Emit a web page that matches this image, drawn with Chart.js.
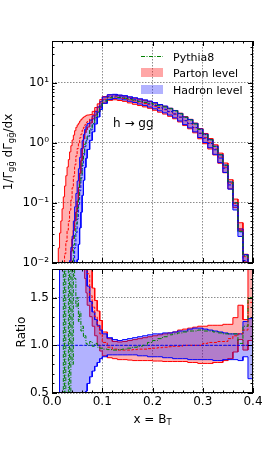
<!DOCTYPE html>
<html>
<head>
<meta charset="utf-8">
<script src="https://cdn.jsdelivr.net/npm/chart.js@4.4.0/dist/chart.umd.min.js"></script>
<style>
  html, body { margin: 0; padding: 0; background: #fff; }
  #wrap { position: relative; width: 266px; height: 463px; overflow: hidden; }
  canvas { position: absolute; left: 0; }
  #topChart { top: 0; }
  #ratioChart { top: 266px; }
</style>
</head>
<body>
<div id="wrap">
  <canvas id="topChart" width="266" height="275"></canvas>
  <canvas id="ratioChart" width="266" height="197"></canvas>
</div>
<script>
// Bin edges (x = B_T): finer bins on the steep rise
const binEdges = [0,
  0.01, 0.0125, 0.015, 0.0175, 0.02, 0.0225, 0.025, 0.0275, 0.03, 0.0325,
  0.035, 0.0375, 0.04, 0.0425, 0.045, 0.0475, 0.05, 0.0525, 0.055, 0.0575,
  0.06, 0.0625, 0.065, 0.0675, 0.07,
  0.075, 0.08, 0.085, 0.09, 0.095, 0.1,
  0.11, 0.12, 0.13, 0.14, 0.15, 0.16, 0.17, 0.18, 0.19, 0.2,
  0.21, 0.22, 0.23, 0.24, 0.25, 0.26, 0.27, 0.28, 0.29, 0.3,
  0.31, 0.32, 0.33, 0.34, 0.35, 0.36, 0.37, 0.38, 0.39, 0.4];

// Hadron level central value, 1/Gamma dGamma/dx
const hadron = [null,
  2.5e-6, 5e-6, 1e-5, 2e-5, 4e-5, 8e-5, 1.6e-4, 3.2e-4, 6.3e-4, 1.1e-3,
  2e-3, 3.5e-3, 5.6e-3, 0.01, 0.018, 0.032, 0.054, 0.093, 0.16, 0.26,
  0.42, 0.63, 0.87, 1.07,
  1.3, 1.65, 2.1, 2.65, 3.3, 4.2,
  5.2, 5.9, 6.1, 6.0, 5.8, 5.5, 5.25, 5.0, 4.75, 4.5,
  4.2, 3.9, 3.65, 3.35, 3.05, 2.7, 2.35, 2.1, 1.8, 1.45,
  1.2, 0.98, 0.77, 0.56, 0.38, 0.2, 0.09, 0.033, 0.011, 0.003];

// Everything below is a ratio to the hadron level central value
const hadronLo = [null,
  null, null, 0.17, 0.17, 0.17, 0.17, 0.17, 0.17, 0.17, 0.18,
  0.18, 0.19, 0.2, 0.2, 0.2, 0.21, 0.21, 0.22, 0.24, 0.27,
  0.32, 0.38, 0.45, 0.52,
  0.6, 0.67, 0.73, 0.78, 0.82, 0.86,
  0.88, 0.9, 0.9, 0.9, 0.9, 0.9, 0.9, 0.89, 0.89, 0.88,
  0.88, 0.88, 0.87, 0.87, 0.86, 0.86, 0.86, 0.85, 0.85, 0.85,
  0.85, 0.85, 0.84, 0.84, 0.85, 0.85, 0.85, 0.84, 0.88, 0.65];
const hadronHi = [null,
  null, null, 6, 6, 6, 6, 6, 6, 6, 5.8,
  5.5, 5.2, 5, 5, 4.8, 4.5, 4.3, 4, 3.6, 3.1,
  2.6, 2.2, 1.95, 1.8,
  1.62, 1.46, 1.35, 1.27, 1.21, 1.16,
  1.12, 1.08, 1.06, 1.05, 1.06, 1.07, 1.08, 1.09, 1.1, 1.11,
  1.12, 1.12, 1.13, 1.13, 1.14, 1.15, 1.15, 1.17, 1.18, 1.18,
  1.17, 1.16, 1.15, 1.14, 1.13, 1.12, 1.12, 1.12, 1.25, 1.28];
const partonRatio = [null,
  400, 316, 250, 178, 141, 112, 89, 71, 56, 45,
  38, 32, 32, 28, 24, 19, 15, 10.7, 7.6, 5.4,
  3.9, 2.9, 2.3, 2.04,
  1.75, 1.52, 1.4, 1.3, 1.2, 1.12,
  1.03, 0.98, 0.96, 0.95, 0.95, 0.95, 0.955, 0.96, 0.96, 0.965,
  0.97, 0.975, 0.98, 0.985, 0.99, 0.99, 1.0, 1.0, 1.0, 1.0,
  1.02, 1.03, 1.03, 1.04, 1.04, 1.07, 1.1, 1.12, 1.16, 1.45];
const partonLo = [null,
  40, 32, 25, 20, 16, 12.5, 10, 7.9, 6.3, 5.7,
  5, 4.5, 4.5, 3.5, 2.8, 2.2, 2.0, 1.95, 1.95, 1.95,
  1.95, 1.85, 1.7, 1.55,
  1.42, 1.3, 1.2, 1.1, 1.0, 0.94,
  0.89, 0.87, 0.86, 0.85, 0.85, 0.845, 0.84, 0.84, 0.84, 0.84,
  0.835, 0.835, 0.83, 0.83, 0.83, 0.83, 0.83, 0.82, 0.82, 0.81,
  0.81, 0.81, 0.82, 0.82, 0.84, 0.86, 0.93, 1.06, 0.95, 1.05];
const partonHi = [null,
  3550, 3550, 3160, 2510, 2000, 1580, 1200, 890, 630, 480,
  355, 257, 200, 135, 89, 57, 37, 23, 14.5, 9.5,
  6.2, 4.3, 3.2, 2.7,
  2.25, 1.8, 1.6, 1.47, 1.36, 1.26,
  1.14, 1.07, 1.04, 1.035, 1.04, 1.05, 1.06, 1.07, 1.08, 1.09,
  1.1, 1.11, 1.12, 1.13, 1.14, 1.16, 1.17, 1.18, 1.19, 1.2,
  1.2, 1.21, 1.21, 1.21, 1.22, 1.22, 1.29, 1.42, 1.27, 2.5];
const pythiaRatio = [null,
  null, null, null, null, 4, 0.2, 3, 0.3, 0.4, 2.5,
  0.3, 2.2, 0.8, 2.0, 1.7, 1.4, 1.5, 1.25, 1.35, 1.15,
  1.2, 1.08, 1.1, 1.02,
  1.0, 1.04, 0.99, 1.02, 0.98, 0.97,
  0.96, 0.955, 0.95, 0.955, 0.96, 0.97, 0.98, 0.99, 1.0, 1.03,
  1.05, 1.07, 1.09, 1.11, 1.12, 1.13, 1.14, 1.15, 1.15, 1.16,
  1.15, 1.15, 1.14, 1.13, 1.12, 1.12, 1.12, 1.02, 1.2, 1.5];

// Ticks and labels
const xTicks = [0, 0.1, 0.2, 0.3, 0.4];
const xTickLabels = ['0.0', '0.1', '0.2', '0.3', '0.4'];
const topTicks = [0.01, 0.1, 1, 10];
const topTickLabels = ['10⁻²', '10⁻¹', '10⁰', '10¹'];
const ratioTicks = [0.5, 1.0, 1.5];
const ratioTickLabels = ['0.5', '1.0', '1.5'];
const legendLabels = ['Pythia8', 'Parton level', 'Hadron level'];

const FONT = '"DejaVu Sans"';
const partonColor = '#ff0000', partonFill = 'rgba(255,0,0,0.3)';
const hadronColor = '#0000ff', hadronFill = 'rgba(0,0,255,0.3)';
const pythiaColor = '#008000';
const gridColor = 'rgba(0,0,0,0.45)';

Chart.defaults.font.family = 'DejaVu Sans';
Chart.defaults.font.size = 12;
Chart.defaults.color = '#000';
Chart.defaults.animation = false;

// histogram helpers
function stepPoints(vals) {
    const pts = [];
    let last = -1;
    vals.forEach((v, i) => {
        if (v == null) return;
        pts.push({x: binEdges[i], y: v});
        last = i;
    });
    pts.push({x: binEdges[last + 1], y: vals[last]});
    return pts;
}

// closed outline of a band: upper steps forward, lower steps back
function outlinePoints(lo, hi) {
    const idx = [];
    lo.forEach((v, i) => { if (v != null) idx.push(i); });
    const pts = [];
    idx.forEach(i => pts.push({x: binEdges[i], y: hi[i]}, {x: binEdges[i + 1], y: hi[i]}));
    idx.slice().reverse().forEach(i => pts.push({x: binEdges[i + 1], y: lo[i]}, {x: binEdges[i], y: lo[i]}));
    pts.push({x: pts[0].x, y: pts[0].y});
    return pts;
}

const times = r => r.map((v, i) => (v == null || hadron[i] == null) ? null : v * hadron[i]);

function makeSets(v) {
    const base = {pointRadius: 0, borderWidth: 1, fill: false, clip: 0, tension: 0};
    const list = [
        {...base, data: stepPoints(v.pHi), stepped: true, borderWidth: 0},
        {...base, data: stepPoints(v.pLo), stepped: true, borderWidth: 0, fill: '-1', backgroundColor: partonFill},
        {...base, data: outlinePoints(v.pLo, v.pHi), borderColor: partonColor},
        {...base, data: stepPoints(v.hHi), stepped: true, borderWidth: 0},
        {...base, data: stepPoints(v.hLo), stepped: true, borderWidth: 0, fill: '-1', backgroundColor: hadronFill},
        {...base, data: outlinePoints(v.hLo, v.hHi), borderColor: hadronColor},
        {...base, data: stepPoints(v.pMid), stepped: true, borderColor: partonColor, borderDash: [3, 1.5]},
        {...base, data: stepPoints(v.hMid), stepped: true, borderColor: hadronColor, borderDash: [3, 1.5]},
        {...base, data: stepPoints(v.py), stepped: true, borderColor: pythiaColor, borderDash: [4, 1.5, 1, 1.5]}
    ];
    // first in list is drawn first (bottom)
    list.forEach((d, i) => { d.order = list.length - i; });
    return list;
}

function line(ctx, x1, y1, x2, y2) {
    ctx.beginPath();
    ctx.moveTo(x1, y1);
    ctx.lineTo(x2, y2);
    ctx.stroke();
}

// text with subscripts, (x, y) = baseline centre
function richText(ctx, parts, x, y, size, angle) {
    ctx.save();
    ctx.translate(x, y);
    ctx.rotate(angle || 0);
    ctx.fillStyle = '#000';
    ctx.textBaseline = 'alphabetic';
    ctx.textAlign = 'left';
    const fontOf = k => (k ? size * 0.7 : size) + 'px ' + FONT;
    let total = 0;
    const widths = parts.map(([t, k]) => {
        ctx.font = fontOf(k);
        const w = ctx.measureText(t).width;
        total += w;
        return w;
    });
    let cx = -total / 2;
    parts.forEach(([t, k], i) => {
        ctx.font = fontOf(k);
        const dy = k === 'sub' ? size * 0.22 : (k === 'sup' ? -size * 0.4 : 0);
        ctx.fillText(t, cx, dy);
        cx += widths[i];
    });
    ctx.restore();
}

// frame with inward ticks on all four sides
const frameTicks = {
    id: 'frameTicks',
    afterDatasetsDraw(chart, args, o) {
        const {ctx, chartArea: a} = chart;
        const sx = chart.scales.x, sy = chart.scales.y;
        ctx.save();
        ctx.strokeStyle = '#000';
        ctx.lineWidth = 1;
        ctx.setLineDash([]);
        const xt = (v, len) => {
            const p = Math.round(sx.getPixelForValue(v)) + 0.5;
            line(ctx, p, a.bottom, p, a.bottom - len);
            line(ctx, p, a.top, p, a.top + len);
        };
        const yt = (v, len) => {
            const p = Math.round(sy.getPixelForValue(v)) + 0.5;
            line(ctx, a.left, p, a.left + len, p);
            line(ctx, a.right, p, a.right - len, p);
        };
        o.xMajor.forEach(v => xt(v, 5));
        o.xMinor.forEach(v => xt(v, 2.5));
        o.yMajor.forEach(v => yt(v, 5));
        o.yMinor.forEach(v => yt(v, 2.5));
        ctx.strokeRect(a.left + 0.5, a.top + 0.5, a.width - 1, a.height - 1);
        ctx.restore();
    }
};

const topText = {
    id: 'topText',
    afterDraw(chart) {
        const ctx = chart.ctx;
        richText(ctx, [['1/Γ'], ['gḡ', 'sub'], [' dΓ'], ['gḡ', 'sub'], ['/dx']], 11.5, 152, 12, -Math.PI / 2);

        ctx.save();
        ctx.fillStyle = '#000';
        ctx.font = '12px ' + FONT;
        ctx.textBaseline = 'alphabetic';
        ctx.fillText('h → gg', 113, 126.5);

        // legend
        ctx.font = '11px ' + FONT;
        ctx.strokeStyle = pythiaColor;
        ctx.lineWidth = 1;
        ctx.setLineDash([4, 1.5, 1, 1.5]);
        line(ctx, 141, 56.5, 163, 56.5);
        ctx.setLineDash([]);
        ctx.fillStyle = 'rgba(255,0,0,0.35)';
        ctx.fillRect(141, 68, 22, 9);
        ctx.fillStyle = 'rgba(0,0,255,0.3)';
        ctx.fillRect(141, 85, 22, 9);
        ctx.fillStyle = '#000';
        ctx.fillText(legendLabels[0], 173, 60.5);
        ctx.fillText(legendLabels[1], 173, 77);
        ctx.fillText(legendLabels[2], 173, 94);
        ctx.restore();
    }
};

const ratioText = {
    id: 'ratioText',
    afterDraw(chart) {
        const ctx = chart.ctx;
        richText(ctx, [['Ratio']], 25, 66, 12, -Math.PI / 2);
        richText(ctx, [['x = B'], ['T', 'sub']], 152.5, 156.5, 12, 0);
    }
};

// minor tick positions
const xMinor = [];
for (let v = 0.02; v < 0.4; v += 0.02) if (Math.abs(v * 10 - Math.round(v * 10)) > 1e-6) xMinor.push(v);
const logMinor = [];
for (let d = -2; d <= 1; d++) for (let k = 2; k <= 9; k++) if (k * Math.pow(10, d) < 50) logMinor.push(k * Math.pow(10, d));
const ratioMinor = [];
for (let k = 6; k <= 17; k++) if (k % 5 !== 0) ratioMinor.push(k / 10);

const fixTicks = arr => s => { s.ticks = arr.map(v => ({value: v})); };

new Chart(document.getElementById('topChart'), {
    type: 'line',
    data: {
        datasets: makeSets({
            hLo: times(hadronLo), hHi: times(hadronHi), hMid: hadron,
            pLo: times(partonLo), pHi: times(partonHi), pMid: times(partonRatio),
            py: times(pythiaRatio)
        })
    },
    options: {
        responsive: false,
        animation: false,
        layout: {padding: {top: 41, right: 13, left: 0, bottom: 0}, autoPadding: false},
        plugins: {
            legend: {display: false},
            tooltip: {enabled: false},
            frameTicks: {xMajor: xTicks, xMinor: xMinor, yMajor: topTicks, yMinor: logMinor}
        },
        scales: {
            x: {
                type: 'linear', min: 0, max: 0.4,
                afterBuildTicks: fixTicks(xTicks),
                ticks: {display: false},
                grid: {color: gridColor, lineWidth: 1, drawTicks: false},
                border: {display: false, dash: [1.5, 1.5]},
                afterFit: s => { s.height = 12; s.paddingLeft = 0; s.paddingRight = 0; }
            },
            y: {
                type: 'logarithmic', min: 0.01, max: 50,
                afterBuildTicks: fixTicks(topTicks),
                ticks: {callback: (v, i) => topTickLabels[i], padding: 3, autoSkip: false,
                        font: {family: 'DejaVu Sans', size: 12}, color: '#000'},
                grid: {color: gridColor, lineWidth: 1, drawTicks: false},
                border: {display: false, dash: [1.5, 1.5]},
                afterFit: s => { s.width = 52; s.paddingTop = 0; s.paddingBottom = 0; }
            }
        }
    },
    plugins: [frameTicks, topText]
});

new Chart(document.getElementById('ratioChart'), {
    type: 'line',
    data: {
        datasets: makeSets({
            hLo: hadronLo, hHi: hadronHi, hMid: hadron.map(h => h == null ? null : 1),
            pLo: partonLo, pHi: partonHi, pMid: partonRatio,
            py: pythiaRatio
        })
    },
    options: {
        responsive: false,
        animation: false,
        layout: {padding: {top: 3, right: 13, left: 0, bottom: 0}, autoPadding: false},
        plugins: {
            legend: {display: false},
            tooltip: {enabled: false},
            frameTicks: {xMajor: xTicks, xMinor: xMinor, yMajor: ratioTicks, yMinor: ratioMinor}
        },
        scales: {
            x: {
                type: 'linear', min: 0, max: 0.4,
                afterBuildTicks: fixTicks(xTicks),
                ticks: {callback: (v, i) => xTickLabels[i], padding: 2, autoSkip: false, maxRotation: 0,
                        font: {family: 'DejaVu Sans', size: 12}, color: '#000'},
                grid: {color: gridColor, lineWidth: 1, drawTicks: false},
                border: {display: false, dash: [1.5, 1.5]},
                afterFit: s => { s.height = 70; s.paddingLeft = 0; s.paddingRight = 0; }
            },
            y: {
                type: 'linear', min: 0.5, max: 1.8,
                afterBuildTicks: fixTicks(ratioTicks),
                ticks: {callback: (v, i) => ratioTickLabels[i], padding: 3, autoSkip: false,
                        font: {family: 'DejaVu Sans', size: 12}, color: '#000'},
                grid: {color: gridColor, lineWidth: 1, drawTicks: false},
                border: {display: false, dash: [1.5, 1.5]},
                afterFit: s => { s.width = 52; s.paddingTop = 0; s.paddingBottom = 0; }
            }
        }
    },
    plugins: [frameTicks, ratioText]
});
</script>
</body>
</html>
